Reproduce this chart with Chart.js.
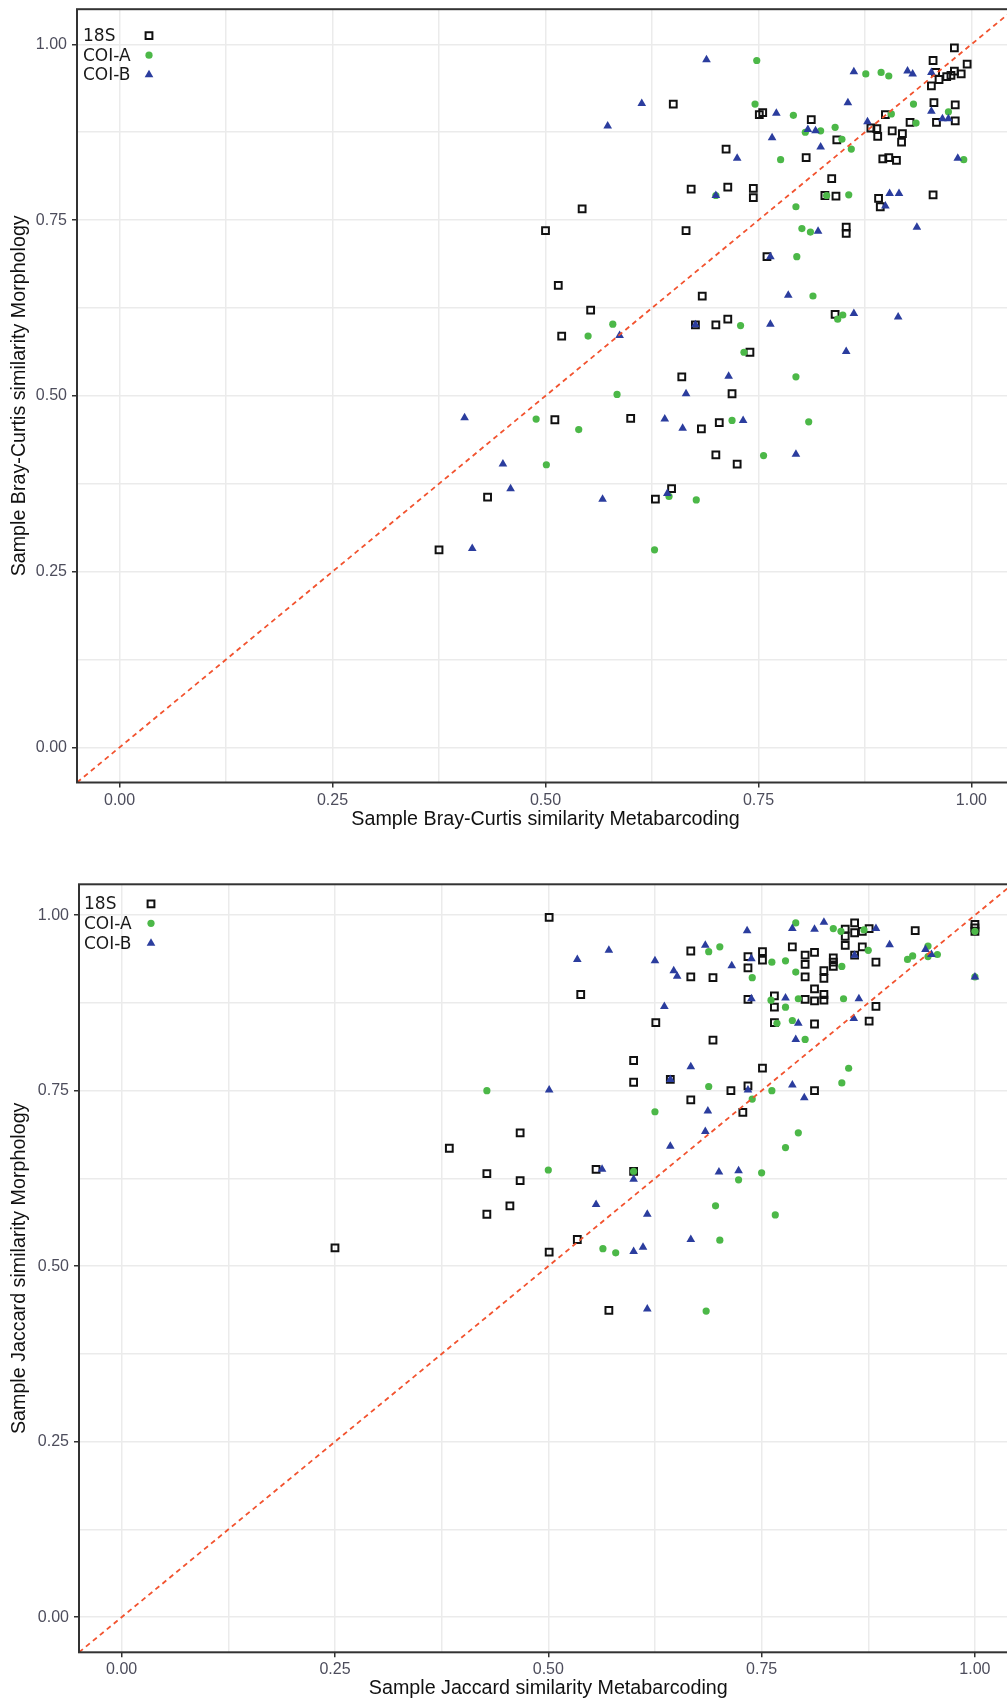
<!DOCTYPE html>
<html>
<head>
<meta charset="utf-8">
<script src="https://cdn.jsdelivr.net/npm/chart.js@4.4.1/dist/chart.umd.min.js"></script>
<style>
  html, body { margin: 0; padding: 0; background: #fff; }
  #page { position: relative; width: 1007px; height: 1701px; overflow: hidden; background: #fff; }
  canvas { position: absolute; left: 0; }
</style>
</head>
<body>
<div id="page">
  <canvas id="brayChart" width="1030" height="845" style="top:0px"></canvas>
  <canvas id="jaccardChart" width="1030" height="841" style="top:860px"></canvas>
</div>
<script>
// axis ticks (major labelled, minor only grid)
const gridValues = [0, 0.125, 0.25, 0.375, 0.5, 0.625, 0.75, 0.875, 1];
const majorValues = [0, 0.25, 0.5, 0.75, 1];
const tickLabels = ['0.00', '0.25', '0.50', '0.75', '1.00'];
const brayLimits = { x: [-0.05, 1.05], y: [-0.05, 1.05] };
const jacLimits = { x: [-0.05, 1.05], y: [-0.05, 1.044] };
const identityLine = [-0.05, 1.05];
const seriesNames = ['18S', 'COI-A', 'COI-B'];

// Bray-Curtis (x = metabarcoding, y = morphology)
const bray18S = [
  [0.650,0.915],[0.671,0.794],[0.543,0.766],[0.500,0.735],[0.665,0.735],[0.515,0.657],[0.684,0.642],
  [0.553,0.622],[0.519,0.585],[0.676,0.601],[0.700,0.601],[0.660,0.527],[0.511,0.466],[0.600,0.468],
  [0.683,0.453],[0.704,0.462],[0.700,0.416],[0.432,0.356],[0.629,0.353],[0.648,0.368],[0.375,0.281],
  [0.980,0.995],[0.955,0.977],[0.995,0.972],[0.958,0.960],[0.962,0.950],[0.971,0.954],[0.976,0.956],
  [0.980,0.962],[0.988,0.958],[0.953,0.941],[0.751,0.900],[0.755,0.903],[0.812,0.893],[0.899,0.900],
  [0.956,0.917],[0.981,0.914],[0.959,0.889],[0.981,0.891],[0.928,0.889],[0.882,0.881],[0.889,0.880],
  [0.890,0.869],[0.907,0.877],[0.919,0.873],[0.918,0.861],[0.842,0.864],[0.712,0.851],[0.806,0.839],
  [0.896,0.837],[0.903,0.839],[0.912,0.835],[0.836,0.809],[0.714,0.797],[0.744,0.795],[0.744,0.782],
  [0.828,0.785],[0.841,0.784],[0.891,0.781],[0.893,0.769],[0.955,0.786],[0.853,0.740],[0.853,0.731],
  [0.760,0.698],[0.840,0.616],[0.714,0.609],[0.740,0.562],[0.719,0.503],[0.725,0.403]
];
const brayCOIA = [
  [0.700,0.785],[0.579,0.602],[0.550,0.585],[0.584,0.502],[0.489,0.467],[0.539,0.452],[0.501,0.402],
  [0.645,0.357],[0.677,0.352],[0.628,0.281],[0.748,0.977],[0.876,0.958],[0.894,0.960],[0.903,0.955],
  [0.746,0.915],[0.791,0.899],[0.840,0.882],[0.805,0.875],[0.823,0.877],[0.906,0.901],[0.932,0.915],
  [0.973,0.904],[0.935,0.888],[0.848,0.865],[0.859,0.851],[0.776,0.836],[0.991,0.836],[0.830,0.785],
  [0.856,0.786],[0.794,0.769],[0.801,0.738],[0.811,0.733],[0.795,0.698],[0.814,0.642],[0.849,0.615],
  [0.843,0.609],[0.729,0.600],[0.733,0.562],[0.794,0.527],[0.719,0.465],[0.809,0.463],[0.756,0.415]
];
const brayCOIB = [
  [0.689,0.978],[0.613,0.916],[0.573,0.884],[0.700,0.785],[0.587,0.586],[0.676,0.601],[0.665,0.503],
  [0.405,0.469],[0.640,0.467],[0.661,0.454],[0.450,0.403],[0.459,0.368],[0.567,0.353],[0.643,0.361],
  [0.414,0.283],[0.862,0.961],[0.925,0.962],[0.931,0.958],[0.953,0.960],[0.771,0.902],[0.855,0.917],
  [0.808,0.879],[0.817,0.877],[0.878,0.890],[0.953,0.905],[0.966,0.894],[0.973,0.894],[0.766,0.867],
  [0.823,0.854],[0.725,0.838],[0.984,0.838],[0.904,0.788],[0.915,0.788],[0.899,0.770],[0.820,0.734],
  [0.936,0.740],[0.764,0.698],[0.785,0.643],[0.862,0.617],[0.914,0.612],[0.764,0.602],[0.853,0.563],
  [0.715,0.528],[0.732,0.465],[0.794,0.417]
];

// Jaccard
const jac18S = [
  [0.501,0.997],[0.538,0.887],[0.467,0.690],[0.384,0.668],[0.428,0.632],[0.467,0.622],[0.556,0.638],
  [0.455,0.586],[0.428,0.574],[0.250,0.526],[0.534,0.538],[0.501,0.520],[0.571,0.437],
  [0.667,0.949],[0.667,0.912],[0.693,0.911],[0.734,0.941],[0.734,0.925],[0.751,0.948],[0.751,0.936],
  [0.786,0.955],[0.801,0.943],[0.801,0.930],[0.801,0.912],[0.812,0.947],[0.812,0.895],[0.734,0.880],
  [0.765,0.885],[0.765,0.869],[0.801,0.880],[0.812,0.878],[0.626,0.847],[0.765,0.847],[0.812,0.845],
  [0.693,0.822],[0.600,0.793],[0.600,0.762],[0.643,0.766],[0.751,0.782],[0.667,0.737],[0.714,0.750],
  [0.734,0.757],[0.812,0.750],[0.728,0.719],[0.600,0.635],
  [0.848,0.980],[0.848,0.970],[0.859,0.989],[0.859,0.975],[0.868,0.977],[0.876,0.981],[0.848,0.957],
  [0.868,0.955],[0.859,0.943],[0.930,0.978],[0.884,0.933],[0.834,0.939],[0.834,0.933],[0.834,0.927],
  [0.823,0.921],[0.823,0.910],[0.823,0.887],[0.823,0.879],[0.884,0.870],[0.876,0.849],
  [1.000,0.987],[1.000,0.982],[1.000,0.977]
];
const jacCOIA = [
  [0.428,0.750],[0.500,0.637],[0.564,0.525],[0.579,0.519],
  [0.688,0.948],[0.701,0.955],[0.739,0.911],[0.762,0.933],[0.778,0.935],[0.790,0.989],[0.790,0.919],
  [0.761,0.879],[0.793,0.881],[0.778,0.869],[0.768,0.846],[0.786,0.850],[0.801,0.823],[0.688,0.756],
  [0.739,0.738],[0.762,0.750],[0.625,0.720],[0.793,0.690],[0.778,0.669],[0.600,0.635],[0.750,0.633],
  [0.723,0.623],[0.696,0.586],[0.766,0.573],[0.701,0.537],[0.685,0.436],
  [0.834,0.981],[0.843,0.977],[0.870,0.979],[0.875,0.950],[0.844,0.927],[0.846,0.881],[0.945,0.956],
  [0.956,0.944],[0.945,0.941],[0.921,0.937],[0.927,0.942],[1.000,0.977],[1.000,0.912],[0.852,0.782],
  [0.844,0.761]
];
const jacCOIB = [
  [0.534,0.937],[0.571,0.950],[0.501,0.751],[0.563,0.638],[0.556,0.588],
  [0.625,0.935],[0.647,0.921],[0.651,0.913],[0.684,0.957],[0.715,0.928],[0.733,0.978],[0.738,0.938],
  [0.786,0.981],[0.812,0.980],[0.738,0.881],[0.778,0.882],[0.636,0.870],[0.793,0.846],[0.790,0.823],
  [0.643,0.766],[0.667,0.784],[0.734,0.751],[0.786,0.758],[0.800,0.740],[0.687,0.721],[0.684,0.692],
  [0.643,0.671],[0.600,0.624],[0.700,0.634],[0.723,0.636],[0.616,0.574],[0.667,0.538],[0.600,0.521],
  [0.611,0.527],[0.616,0.439],
  [0.823,0.990],[0.884,0.981],[0.859,0.943],[0.900,0.958],[0.864,0.881],[0.858,0.853],[0.942,0.951],
  [0.949,0.944],[1.000,0.912]
];

const FONT = '"Liberation Sans", Arial, sans-serif';
const toXY = arr => arr.map(p => ({ x: p[0], y: p[1] }));
const isMajor = v => majorValues.some(m => Math.abs(m - v) < 1e-9);

// plot frame + legend inside the panel (text left, symbol right like ggplot)
const panelDecor = {
    id: 'panelDecor',
    afterDraw(chart, args, opts) {
        const ctx = chart.ctx;
        const a = chart.chartArea;
        ctx.save();
        ctx.strokeStyle = '#333333';
        ctx.lineWidth = 2;
        ctx.strokeRect(a.left, a.top, a.right - a.left, a.bottom - a.top);

        ctx.font = '17px "DejaVu Sans", sans-serif';
        ctx.textBaseline = 'middle';
        ctx.textAlign = 'left';
        let row = 0;
        chart.data.datasets.forEach(ds => {
            if (!ds.inLegend) return;
            const y = a.top + opts.rows[row++];
            ctx.fillStyle = '#1a1a1a';
            ctx.fillText(ds.label, a.left + opts.textX, y);
            ctx.fillStyle = ds.pointBackgroundColor;
            ctx.strokeStyle = ds.pointBorderColor;
            ctx.lineWidth = ds.pointBorderWidth;
            Chart.helpers.drawPoint(ctx, {
                pointStyle: ds.pointStyle, radius: ds.pointRadius,
                borderWidth: ds.pointBorderWidth, rotation: 0
            }, a.left + opts.symbolX, y - 1);
        });
        ctx.restore();
    }
};

function axis(title, limits, size, titlePad, tickPad) {
    return {
        type: 'linear',
        min: limits[0],
        max: limits[1],
        afterBuildTicks: s => { s.ticks = gridValues.map(v => ({ value: v })); },
        afterFit: s => {
            // fixed box size, no extra label overflow padding
            if (s.isHorizontal()) s.height = size; else s.width = size;
            s.paddingTop = 0; s.paddingBottom = 0; s.paddingLeft = 0; s.paddingRight = 0;
        },
        border: { display: false },
        grid: {
            color: '#ebebeb',
            lineWidth: 1.5,
            drawTicks: true,
            tickLength: 5,
            tickWidth: 1.5,
            tickColor: c => (isMajor(c.tick.value) ? '#333333' : 'rgba(0,0,0,0)')
        },
        ticks: {
            autoSkip: false,
            maxRotation: 0,
            minRotation: 0,
            padding: tickPad,
            color: '#4d4d5c',
            font: { family: FONT, size: 16 },
            callback: v => (isMajor(v) ? tickLabels[majorValues.findIndex(m => Math.abs(m - v) < 1e-9)] : '')
        },
        title: {
            display: true,
            text: title,
            color: '#111111',
            font: { family: FONT, size: 19.7 },
            padding: titlePad
        }
    };
}

function makeChart(canvasId, s18, sA, sB, opt) {
    const ctx = document.getElementById(canvasId).getContext('2d');
    return new Chart(ctx, {
        type: 'scatter',
        data: {
            datasets: [
                {
                    label: seriesNames[0], data: toXY(s18), inLegend: true, order: 3,
                    pointStyle: 'rect', pointRadius: 4.8, pointHoverRadius: 4.8,
                    pointBorderWidth: 2, pointBorderColor: '#111111',
                    pointBackgroundColor: 'rgba(255,255,255,0)'
                },
                {
                    label: seriesNames[1], data: toXY(sA), inLegend: true, order: 2,
                    pointStyle: 'circle', pointRadius: 3.6, pointHoverRadius: 3.6,
                    pointBorderWidth: 0, pointBorderColor: '#4cb848',
                    pointBackgroundColor: '#4cb848'
                },
                {
                    label: seriesNames[2], data: toXY(sB), inLegend: true, order: 1,
                    pointStyle: 'triangle', pointRadius: 5, pointHoverRadius: 5,
                    pointBorderWidth: 0, pointBorderColor: '#2b3d9e',
                    pointBackgroundColor: '#2b3d9e'
                },
                {
                    // 1:1 line
                    type: 'line', label: 'y = x', order: 0,
                    data: identityLine.map(v => ({ x: v, y: v })),
                    borderColor: '#f2532f', borderWidth: 1.8, borderDash: [5, 4],
                    pointRadius: 0, fill: false
                }
            ]
        },
        options: {
            responsive: false,
            animation: false,
            devicePixelRatio: 1,
            layout: { padding: opt.padding },
            plugins: {
                legend: { display: false },
                tooltip: { enabled: false },
                panelDecor: opt.legend
            },
            scales: {
                x: axis(opt.xTitle, opt.limits.x, opt.xSize, opt.xTitlePad, 3),
                y: axis(opt.yTitle, opt.limits.y, opt.ySize, opt.yTitlePad, 5)
            }
        },
        plugins: [panelDecor]
    });
}

// Bray-Curtis panel
makeChart('brayChart', bray18S, brayCOIA, brayCOIB, {
    limits: brayLimits,
    padding: { top: 9.2, right: 16, bottom: 0, left: 0 },
    xSize: 62.5, ySize: 77,
    xTitle: 'Sample Bray-Curtis similarity Metabarcoding',
    yTitle: 'Sample Bray-Curtis similarity Morphology',
    xTitlePad: { top: 0, bottom: 14 },
    yTitlePad: { top: 8, bottom: 0 },
    legend: { rows: [27.5, 47, 66.5], textX: 6, symbolX: 72 }
});

// Jaccard panel
makeChart('jaccardChart', jac18S, jacCOIA, jacCOIB, {
    limits: jacLimits,
    padding: { top: 24.3, right: 12.4, bottom: 0, left: 0 },
    xSize: 48.7, ySize: 79,
    xTitle: 'Sample Jaccard similarity Metabarcoding',
    yTitle: 'Sample Jaccard similarity Morphology',
    xTitlePad: { top: 0, bottom: 1 },
    yTitlePad: { top: 8, bottom: 0 },
    legend: { rows: [20.5, 40, 60], textX: 5, symbolX: 72 }
});
</script>
</body>
</html>
